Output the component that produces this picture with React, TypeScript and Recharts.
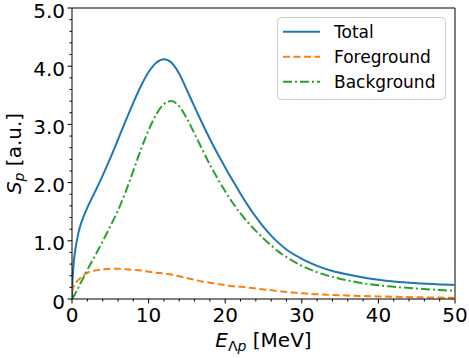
import React from "react";
import { LineChart, Line, XAxis, YAxis, ReferenceLine, Legend } from "recharts";

const energy = [0, 0.05, 0.1, 0.25, 0.5, 0.75, 1, 1.5, 2, 3, 4, 5, 6, 7, 8, 9, 10, 11, 12, 13, 14, 15, 16, 17, 18, 19, 20, 21, 22, 23, 24, 25, 26, 27, 28, 30, 32, 34, 36, 38, 40, 42, 45, 48, 50];
const total = [0, 0.28, 0.40, 0.66, 0.90, 1.08, 1.22, 1.41, 1.57, 1.84, 2.12, 2.42, 2.74, 3.06, 3.37, 3.66, 3.90, 4.06, 4.12, 4.06, 3.87, 3.59, 3.30, 3.02, 2.75, 2.50, 2.26, 2.03, 1.81, 1.60, 1.41, 1.24, 1.09, 0.96, 0.85, 0.69, 0.57, 0.48, 0.42, 0.37, 0.33, 0.30, 0.27, 0.25, 0.24];
const foreground = [0.12, 0.15, 0.17, 0.22, 0.28, 0.32, 0.35, 0.41, 0.45, 0.49, 0.51, 0.52, 0.52, 0.51, 0.50, 0.49, 0.47, 0.45, 0.44, 0.42, 0.39, 0.36, 0.33, 0.30, 0.28, 0.26, 0.24, 0.22, 0.21, 0.195, 0.18, 0.165, 0.15, 0.135, 0.12, 0.10, 0.08, 0.07, 0.06, 0.05, 0.045, 0.04, 0.03, 0.025, 0.02];
const background = [0, 0.01, 0.02, 0.05, 0.11, 0.17, 0.24, 0.37, 0.50, 0.74, 0.99, 1.25, 1.52, 1.84, 2.20, 2.57, 2.90, 3.17, 3.35, 3.40, 3.31, 3.10, 2.84, 2.57, 2.31, 2.07, 1.85, 1.65, 1.47, 1.31, 1.17, 1.04, 0.92, 0.81, 0.72, 0.57, 0.46, 0.38, 0.32, 0.27, 0.235, 0.21, 0.18, 0.155, 0.14];

const xTicks = [0, 2, 4, 6, 8, 10, 12, 14, 16, 18, 20, 22, 24, 26, 28, 30, 32, 34, 36, 38, 40, 42, 44, 46, 48, 50];
const xMajor = [0, 10, 20, 30, 40, 50];
const yTicks = [0, 0.2, 0.4, 0.6, 0.8, 1.0, 1.2, 1.4, 1.6, 1.8, 2.0, 2.2, 2.4, 2.6, 2.8, 3.0, 3.2, 3.4, 3.6, 3.8, 4.0, 4.2, 4.4, 4.6, 4.8, 5.0];
const yMajor = [0, 1, 2, 3, 4, 5];

const seriesNames = ["Total", "Foreground", "Background"];
const seriesKeys = ["total", "foreground", "background"];
const seriesColors = ["#1f77b4", "#ff7f0e", "#2ca02c"];
const seriesDash = ["", "7 3.5", "9 3 2 3"];

const data = energy.map((e, i) => ({
  e,
  total: total[i],
  foreground: foreground[i],
  background: background[i],
}));

const FONT = "DejaVu Sans, Verdana, sans-serif";

const isMajor = (list: number[], v: number) => list.some((m) => Math.abs(m - v) < 1e-9);

const XTick = (props: any) => {
  const { x, y, payload } = props;
  const v = payload.value;
  const major = isMajor(xMajor, v);
  return (
    <g>
      <line x1={x} x2={x} y1={y} y2={y + (major ? 4.5 : 2.5)} stroke="#000" strokeWidth={1} />
      {major && (
        <text x={x} y={y + 23} textAnchor="middle" fontSize={20} fontFamily={FONT} fill="#000">
          {String(v)}
        </text>
      )}
    </g>
  );
};

const YTick = (props: any) => {
  const { x, y, payload } = props;
  const v = payload.value;
  const major = isMajor(yMajor, v);
  return (
    <g>
      <line x1={x - (major ? 4.5 : 2.5)} x2={x} y1={y} y2={y} stroke="#000" strokeWidth={1} />
      {major && (
        <text x={x - 7} y={y + 9.5} textAnchor="end" fontSize={20} fontFamily={FONT} fill="#000">
          {v === 0 ? "0" : v.toFixed(1)}
        </text>
      )}
    </g>
  );
};

const LegendBox = (props: any) => {
  const payload = [...(props.payload || [])].sort(
    (a: any, b: any) => seriesKeys.indexOf(a.dataKey) - seriesKeys.indexOf(b.dataKey)
  );
  return (
    <svg width={170} height={84} style={{ display: "block" }}>
      <rect x={0.5} y={0.5} width={168} height={82} rx={4} ry={4} fill="#ffffff" fillOpacity={0.8} stroke="#cccccc" strokeWidth={1} />
      {payload.map((p: any, i: number) => {
        const idx = seriesKeys.indexOf(p.dataKey);
        const cy = 14.7 + 25 * i;
        return (
          <g key={i}>
            <line x1={6} x2={43} y1={cy} y2={cy} stroke={seriesColors[idx]} strokeWidth={2} strokeDasharray={seriesDash[idx] || undefined} />
            <text x={57} y={cy + 6.2} fontSize={17} fontFamily={FONT} fill="#000">
              {p.value}
            </text>
          </g>
        );
      })}
    </svg>
  );
};

export default function App() {
  return (
    <div style={{ position: "absolute", left: 0, top: 0, width: 469, height: 358, background: "#fff" }}>
      <LineChart width={469} height={358} data={data} margin={{ top: 8, right: 14, bottom: 9, left: 12 }}>
        <XAxis
          dataKey="e"
          type="number"
          domain={[0, 50]}
          ticks={xTicks}
          interval={0}
          tick={<XTick />}
          tickLine={false}
          tickSize={0}
          tickMargin={0}
          axisLine={{ stroke: "#000", strokeWidth: 1 }}
          height={50}
          allowDataOverflow
        />
        <YAxis
          type="number"
          domain={[0, 5]}
          ticks={yTicks}
          interval={0}
          tick={<YTick />}
          tickLine={false}
          tickSize={0}
          tickMargin={0}
          axisLine={{ stroke: "#000", strokeWidth: 1 }}
          width={60}
          allowDataOverflow
        />
        <ReferenceLine y={5} stroke="#000" strokeWidth={1} />
        <ReferenceLine x={50} stroke="#000" strokeWidth={1} />
        {seriesKeys.map((k, i) => (
          <Line
            key={k}
            dataKey={k}
            name={seriesNames[i]}
            type="monotone"
            stroke={seriesColors[i]}
            strokeWidth={2}
            strokeDasharray={seriesDash[i] || undefined}
            dot={false}
            activeDot={false}
            isAnimationActive={false}
          />
        ))}
        <Legend
          layout="vertical"
          align="center"
          verticalAlign="middle"
          content={<LegendBox />}
          wrapperStyle={{ position: "absolute", left: 277, top: 17, width: 170, height: 84, margin: 0 }}
        />
      </LineChart>
      <svg width={469} height={358} style={{ position: "absolute", left: 0, top: 0, pointerEvents: "none" }}>
        <text transform="rotate(-90)" x={-153.5} y={21} textAnchor="middle" fontSize={20} fontFamily={FONT} fill="#000">
          <tspan fontStyle="italic">S</tspan>
          <tspan fontStyle="italic" fontSize={14} dy={3}>p</tspan>
          <tspan dy={-3}> [a.u.]</tspan>
        </text>
        <text x={263.5} y={347} textAnchor="middle" fontSize={20} fontFamily={FONT} fill="#000">
          <tspan fontStyle="italic">E</tspan>
          <tspan fontSize={14} dy={4}>Λ</tspan>
          <tspan fontSize={14} fontStyle="italic">p</tspan>
          <tspan dy={-4}> [MeV]</tspan>
        </text>
      </svg>
    </div>
  );
}
